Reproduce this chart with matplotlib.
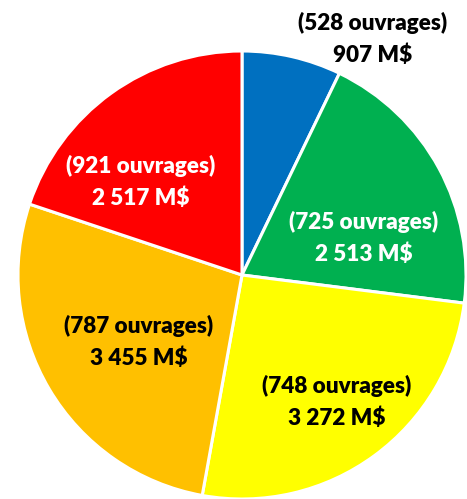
import matplotlib.pyplot as plt

# montants (M$) et nombre d'ouvrages par tranche
montants = [907, 2513, 3272, 3455, 2517]
ouvrages = [528, 725, 748, 787, 921]
couleurs = ['#0070C0', '#00B050', '#FFFF00', '#FFC000', '#FF0000']
couleurs_texte = ['black', 'white', 'black', 'black', 'white']

# position des étiquettes (en pixels par rapport au centre)
pos_etiquettes = [(131, 236), (122, 37), (95, -127), (-103, -67), (-101, 93)]


def fmt_montant(v):
    return f"{v:,}".replace(",", " ") + " M$"


fig = plt.figure(figsize=(4.67, 4.99), dpi=100)
ax = fig.add_axes([0, 0, 1, 1])

ax.pie(montants, colors=couleurs, startangle=90, counterclock=False,
       radius=224, center=(0, 0),
       wedgeprops=dict(edgecolor='white', linewidth=2.2))

for n, m, c, (x, y) in zip(ouvrages, montants, couleurs_texte, pos_etiquettes):
    ax.text(x, y, f"({n} ouvrages)\n{fmt_montant(m)}", ha='center', va='center',
            color=c, fontsize=16.2, fontweight='heavy', family='Lato',
            linespacing=1.6)

ax.set_xlim(-242, 225)
ax.set_ylim(-224, 275)
ax.set_aspect('equal')
ax.axis('off')

fig.savefig('out.png', dpi=100)
